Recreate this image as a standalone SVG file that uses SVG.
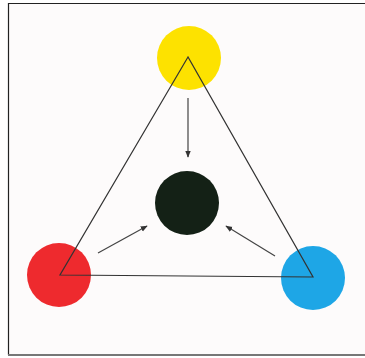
<svg xmlns="http://www.w3.org/2000/svg" width="365" height="358" viewBox="0 0 365 358">
  <defs>
    <marker id="ah" viewBox="0 0 10 10" refX="9" refY="5" markerWidth="7" markerHeight="7" markerUnits="userSpaceOnUse" orient="auto">
      <path d="M0,1 L10,5 L0,9 Z" fill="#333"/>
    </marker>
  </defs>
  <style>
    .arrow { stroke: #444; stroke-width: 1.2; fill: none; marker-end: url(#ah); }
    .tri { stroke: #333; stroke-width: 1.2; fill: none; stroke-linejoin: miter; }
  </style>
  <rect x="0" y="0" width="365" height="358" fill="#ffffff"/>
  <rect x="9" y="4" width="356" height="350" fill="#fdfbfb"/>
  <line x1="8" y1="3.5" x2="365" y2="3.5" stroke="#222" stroke-width="1"/>
  <line x1="8.5" y1="3" x2="8.5" y2="355" stroke="#222" stroke-width="1.2"/>
  <line x1="8" y1="355" x2="365" y2="355" stroke="#777" stroke-width="2"/>
  <g id="yellow"><circle cx="189" cy="58" r="32" fill="#fde200"/></g>
  <g id="red"><circle cx="59" cy="275" r="32" fill="#ee2a2e"/></g>
  <g id="blue"><circle cx="313" cy="278" r="32" fill="#1ea6e6"/></g>
  <g id="black"><circle cx="187" cy="203" r="32" fill="#142116"/></g>
  <g id="connectors">
    <polygon class="tri" points="188,57 60,275 313,277"/>
    <line class="arrow" x1="188" y1="98" x2="188" y2="157"/>
    <line class="arrow" x1="98" y1="253" x2="147" y2="226"/>
    <line class="arrow" x1="275" y1="256" x2="226" y2="226"/>
  </g>
</svg>
